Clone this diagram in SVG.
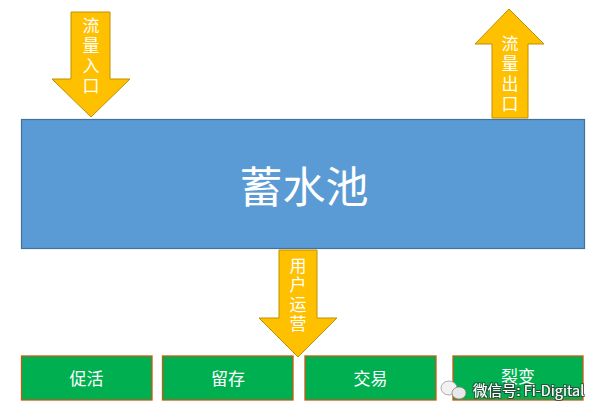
<svg xmlns="http://www.w3.org/2000/svg" width="599" height="417" viewBox="0 0 599 417">
<style>
.arrow{fill:#FFC000;stroke:#BF9000;stroke-width:1}
.vt{font-family:"Noto Sans CJK SC","Noto Sans",sans-serif;font-size:17px;fill:#fff;text-anchor:middle;dominant-baseline:central}
.box{fill:#00B050;stroke:#C55A11;stroke-width:1.3}
.bt{font-family:"Noto Sans CJK SC","Noto Sans",sans-serif;font-size:17px;fill:#fff;text-anchor:middle;dominant-baseline:central}
</style>
<defs>
<filter id="shadow" x="-10%" y="-30%" width="120%" height="160%">
<feMorphology in="SourceAlpha" operator="dilate" radius="0.8" result="d"/>
<feFlood flood-color="#333" flood-opacity="0.75"/>
<feComposite in2="d" operator="in" result="s"/>
<feMerge><feMergeNode in="s"/><feMergeNode in="SourceGraphic"/></feMerge>
</filter>
</defs>
<rect width="599" height="417" fill="#fff"/>
<g id="pool">
<rect x="21.5" y="119.5" width="563" height="129" fill="#5B9BD5" stroke="#41719C" stroke-width="1.2"/>
<text x="304" y="184" font-family="Noto Sans CJK SC,Noto Sans,sans-serif" font-size="43" fill="#fff" text-anchor="middle" dominant-baseline="central">蓄水池</text>
</g>
<g id="connectors">
<g id="arrow-in">
<path class="arrow" d="M71,12 H110 V79 H130 L91,117 L52,79 H71 Z"/>
<text class="vt"><tspan x="91" y="24">流</tspan><tspan x="91" y="44">量</tspan><tspan x="91" y="64">入</tspan><tspan x="91" y="84">口</tspan></text>
</g>
<g id="arrow-out">
<path class="arrow" d="M492,118 V44 H475 L509,9 L544,44 H528 V118 Z"/>
<text class="vt"><tspan x="510" y="42">流</tspan><tspan x="510" y="62">量</tspan><tspan x="510" y="82">出</tspan><tspan x="510" y="102">口</tspan></text>
</g>
<g id="arrow-ops">
<path class="arrow" d="M279,250 H317 V318 H337 L298,357 L259,318 H279 Z"/>
<text class="vt"><tspan x="298" y="264">用</tspan><tspan x="298" y="283">户</tspan><tspan x="298" y="303">运</tspan><tspan x="298" y="322">营</tspan></text>
</g>
</g>
<g id="n1"><rect class="box" x="21.5" y="356" width="130.5" height="44"/><text class="bt" x="86.5" y="377">促活</text></g>
<g id="n2"><rect class="box" x="162.5" y="356" width="130.5" height="44"/><text class="bt" x="228" y="377">留存</text></g>
<g id="n3"><rect class="box" x="305" y="356" width="131" height="44"/><text class="bt" x="370.5" y="377">交易</text></g>
<g id="n4"><rect class="box" x="453" y="356" width="130" height="44"/><text class="bt" x="518" y="375">裂变</text></g>
<g id="watermark">
<ellipse cx="449" cy="388" rx="8" ry="7" fill="#f2f2f2" stroke="#999" stroke-width="0.8"/>
<ellipse cx="459" cy="393" rx="7" ry="6" fill="#e8e8e8" stroke="#888" stroke-width="0.8"/>
<text x="473" y="396" font-family="Noto Sans CJK SC,Noto Sans,sans-serif" font-size="14.5" fill="#fff" filter="url(#shadow)">微信号: Fi-Digital</text>
</g>
</svg>
